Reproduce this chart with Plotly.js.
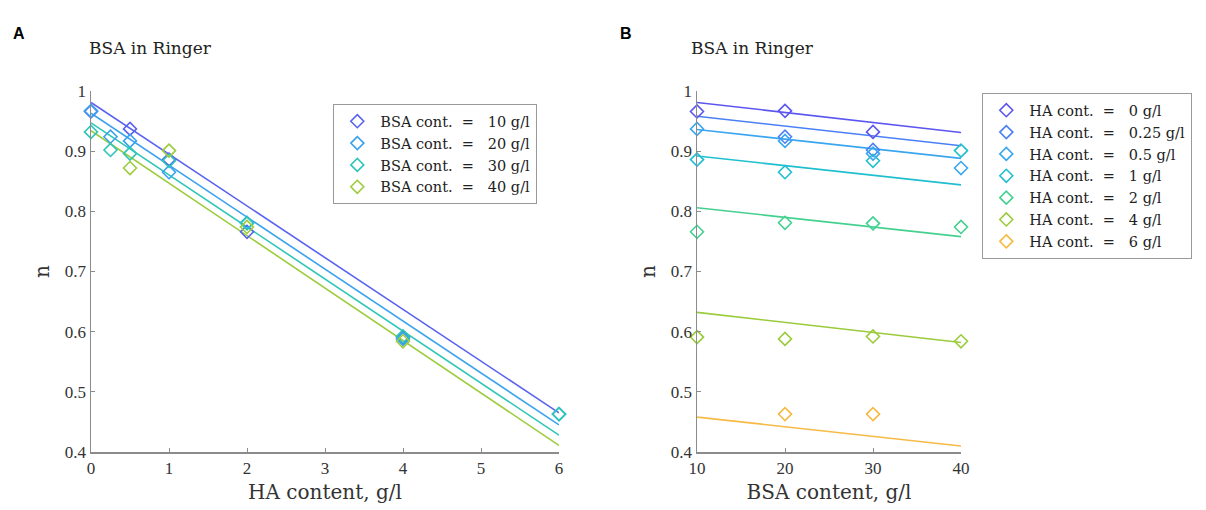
<!DOCTYPE html>
<html><head><meta charset="utf-8">
<script src="https://cdn.plot.ly/plotly-3.0.1.min.js"></script>
<style>html,body{margin:0;padding:0;background:#fff}#plot{width:1206px;height:510px}</style>
</head><body><div id="plot"></div>
<script>
// HA levels (g/l) and BSA levels (g/l)
const haLevels = [0, 0.25, 0.5, 1, 2, 4, 6];
const bsaLevels = [10, 20, 30, 40];
// measured n, one array per BSA level, indexed by haLevels (null = not measured)
const nBSA10 = [0.966, null, 0.937, 0.886, 0.766, 0.591, null];
const nBSA20 = [0.967, 0.924, 0.917, 0.865, 0.781, 0.588, 0.463];
const nBSA30 = [0.932, 0.902, 0.896, 0.884, 0.780, 0.592, 0.463];
const nBSA40 = [null, null, 0.872, 0.901, 0.774, 0.584, null];
const nTable = [nBSA10, nBSA20, nBSA30, nBSA40];
// fitted lines, panel A (n at HA = 0 and HA = 6)
const fitA_start = [0.981, 0.963, 0.947, 0.934];
const fitA_end = [0.465, 0.445, 0.428, 0.411];
// fitted lines, panel B (n at BSA = 10 and BSA = 40)
const fitB_start = [0.981, 0.958, 0.936, 0.892, 0.806, 0.632, 0.458];
const fitB_end = [0.931, 0.909, 0.888, 0.844, 0.758, 0.582, 0.410];
const legendA = ['BSA cont. &nbsp;= &nbsp;&nbsp;10 g/l', 'BSA cont. &nbsp;= &nbsp;&nbsp;20 g/l', 'BSA cont. &nbsp;= &nbsp;&nbsp;30 g/l', 'BSA cont. &nbsp;= &nbsp;&nbsp;40 g/l'];
const legendB = ['HA cont. &nbsp;= &nbsp;&nbsp;0 g/l', 'HA cont. &nbsp;= &nbsp;&nbsp;0.25 g/l', 'HA cont. &nbsp;= &nbsp;&nbsp;0.5 g/l', 'HA cont. &nbsp;= &nbsp;&nbsp;1 g/l', 'HA cont. &nbsp;= &nbsp;&nbsp;2 g/l', 'HA cont. &nbsp;= &nbsp;&nbsp;4 g/l', 'HA cont. &nbsp;= &nbsp;&nbsp;6 g/l'];

const colorsA = ['#5a62f0', '#3aa2ee', '#2ec6b8', '#9ccc3c'];
const colorsB = ['#5c56ef', '#4a80f5', '#3aa6f0', '#20bfcf', '#45d090', '#9acb3b', '#f7ba45'];

const SERIF = 'Liberation Serif, serif';
const WIDE = 'DejaVu Serif, serif';
const traces = [];
// Panel A
bsaLevels.forEach((b, i) => {
  traces.push({x: [haLevels[0], haLevels[haLevels.length - 1]], y: [fitA_start[i], fitA_end[i]],
    mode: 'lines', line: {color: colorsA[i], width: 1.6}, showlegend: false, hoverinfo: 'skip',
    xaxis: 'x', yaxis: 'y', cliponaxis: false});
});
bsaLevels.forEach((b, i) => {
  traces.push({x: haLevels, y: nTable[i], mode: 'markers', name: legendA[i],
    marker: {symbol: 'diamond-open', size: 10, color: colorsA[i], line: {width: 1.6}},
    xaxis: 'x', yaxis: 'y', legend: 'legend', cliponaxis: false});
});
// Panel B
haLevels.forEach((h, j) => {
  traces.push({x: [bsaLevels[0], bsaLevels[bsaLevels.length - 1]], y: [fitB_start[j], fitB_end[j]],
    mode: 'lines', line: {color: colorsB[j], width: 1.6}, showlegend: false, hoverinfo: 'skip',
    xaxis: 'x2', yaxis: 'y2', cliponaxis: false});
});
haLevels.forEach((h, j) => {
  traces.push({x: bsaLevels, y: nTable.map(r => r[j]), mode: 'markers', name: legendB[j],
    marker: {symbol: 'diamond-open', size: 10, color: colorsB[j], line: {width: 1.6}},
    xaxis: 'x2', yaxis: 'y2', legend: 'legend2', cliponaxis: false});
});

const W = 1206, H = 510;
const axisCommon = {showline: true, linecolor: '#8c8c8c', linewidth: 1.5, ticks: 'inside', ticklen: 4,
  tickcolor: '#8c8c8c', tickwidth: 1, showgrid: false, zeroline: false, mirror: false,
  tickfont: {family: SERIF, size: 17, color: '#333'}};
const yDom = [(H - 452) / H, (H - 91) / H];
const titleFont = {family: WIDE, size: 20, color: '#333'};
const legFont = {family: WIDE, size: 14.5, color: '#222'};
const layout = {
  width: W, height: H, margin: {l: 0, r: 0, t: 0, b: 0}, paper_bgcolor: '#fff', plot_bgcolor: '#fff',
  showlegend: true,
  xaxis: Object.assign({}, axisCommon, {domain: [91 / W, 559 / W], range: [0, 6], dtick: 1, anchor: 'y',
    title: {text: 'HA content, g/l', font: titleFont, standoff: 8}}),
  yaxis: Object.assign({}, axisCommon, {domain: yDom, range: [0.4, 1], dtick: 0.1, anchor: 'x',
    title: {text: 'n', font: titleFont, standoff: 10}}),
  xaxis2: Object.assign({}, axisCommon, {domain: [697 / W, 961 / W], range: [10, 40], dtick: 10, anchor: 'y2',
    title: {text: 'BSA content, g/l', font: titleFont, standoff: 8}}),
  yaxis2: Object.assign({}, axisCommon, {domain: yDom, range: [0.4, 1], dtick: 0.1, anchor: 'x2',
    title: {text: 'n', font: titleFont, standoff: 10}}),
  legend: {x: 333 / W, y: (H - 104) / H, xanchor: 'left', yanchor: 'top', bgcolor: '#fff',
    bordercolor: '#999', borderwidth: 1.3, font: legFont, tracegroupgap: 0, itemwidth: 36},
  legend2: {x: 982 / W, y: (H - 93) / H, xanchor: 'left', yanchor: 'top', bgcolor: '#fff',
    bordercolor: '#999', borderwidth: 1.3, font: legFont, tracegroupgap: 0, itemwidth: 36},
  annotations: [
    {text: '<b>A</b>', x: 11 / W, y: (H - 34) / H, xref: 'paper', yref: 'paper', xanchor: 'left', yanchor: 'middle',
      showarrow: false, font: {family: 'Liberation Sans, Arial, sans-serif', size: 16, color: '#000'}},
    {text: '<b>B</b>', x: 618 / W, y: (H - 34) / H, xref: 'paper', yref: 'paper', xanchor: 'left', yanchor: 'middle',
      showarrow: false, font: {family: 'Liberation Sans, Arial, sans-serif', size: 16, color: '#000'}},
    {text: 'BSA in Ringer', x: 87 / W, y: (H - 48) / H, xref: 'paper', yref: 'paper', xanchor: 'left', yanchor: 'middle',
      showarrow: false, font: {family: WIDE, size: 17, color: '#222'}},
    {text: 'BSA in Ringer', x: 689 / W, y: (H - 48) / H, xref: 'paper', yref: 'paper', xanchor: 'left', yanchor: 'middle',
      showarrow: false, font: {family: WIDE, size: 17, color: '#222'}}
  ]
};
Plotly.newPlot('plot', traces, layout, {staticPlot: true, displayModeBar: false});
</script></body></html>
